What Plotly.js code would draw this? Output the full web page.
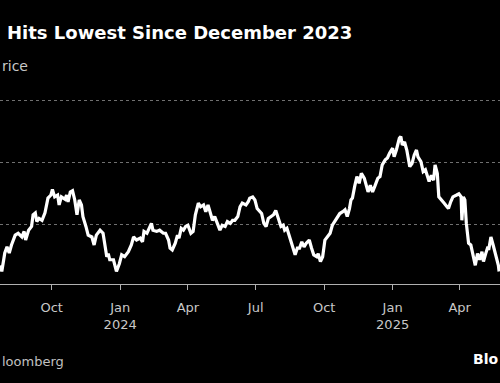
<!DOCTYPE html>
<html>
<head>
<meta charset="utf-8">
<script src="https://cdn.plot.ly/plotly-3.0.1.min.js"></script>
<style>
  html, body { margin: 0; padding: 0; background: #000; }
  #chart { width: 500px; height: 383px; }
</style>
</head>
<body>
<div id="chart"></div>
<script>
// Price series (y units arbitrary, gridlines at 60/70/80)
const dates = [
  "2023-07-24","2023-07-26","2023-07-30","2023-08-02","2023-08-05","2023-08-08","2023-08-13","2023-08-17","2023-08-22","2023-08-25",
  "2023-08-27","2023-08-31","2023-09-04","2023-09-06","2023-09-09","2023-09-11","2023-09-14","2023-09-18","2023-09-22","2023-09-26",
  "2023-09-30","2023-10-02","2023-10-05","2023-10-09","2023-10-11","2023-10-14","2023-10-19","2023-10-21","2023-10-23","2023-10-26",
  "2023-10-29","2023-11-01","2023-11-04","2023-11-07","2023-11-10","2023-11-12","2023-11-16","2023-11-19","2023-11-24","2023-11-27",
  "2023-11-30","2023-12-05","2023-12-09","2023-12-11","2023-12-14","2023-12-16","2023-12-18","2023-12-23","2023-12-27","2023-12-31",
  "2024-01-03","2024-01-07","2024-01-12","2024-01-16","2024-01-19","2024-01-23","2024-01-28","2024-01-31","2024-02-02","2024-02-06",
  "2024-02-09","2024-02-12","2024-02-14","2024-02-19","2024-02-23","2024-02-28","2024-03-02","2024-03-06","2024-03-08","2024-03-11",
  "2024-03-15","2024-03-18","2024-03-20","2024-03-23","2024-03-26","2024-03-29","2024-04-01","2024-04-05","2024-04-08","2024-04-11",
  "2024-04-15","2024-04-18","2024-04-22","2024-04-25","2024-04-28","2024-05-01","2024-05-04","2024-05-07","2024-05-11","2024-05-14",
  "2024-05-17","2024-05-21","2024-05-24","2024-05-28","2024-05-31","2024-06-03","2024-06-07","2024-06-10","2024-06-13","2024-06-18",
  "2024-06-21","2024-06-23","2024-06-27","2024-06-30","2024-07-03","2024-07-06","2024-07-09","2024-07-12","2024-07-15","2024-07-18",
  "2024-07-21","2024-07-25","2024-07-28","2024-07-31","2024-08-04","2024-08-07","2024-08-09","2024-08-12","2024-08-16","2024-08-20",
  "2024-08-23","2024-08-26","2024-08-29","2024-09-01","2024-09-04","2024-09-07","2024-09-11","2024-09-14","2024-09-17","2024-09-21",
  "2024-09-23","2024-09-26","2024-09-29","2024-10-02","2024-10-05","2024-10-09","2024-10-12","2024-10-16","2024-10-19","2024-10-22",
  "2024-10-26","2024-10-29","2024-11-01","2024-11-04","2024-11-06","2024-11-08","2024-11-11","2024-11-14","2024-11-17","2024-11-20",
  "2024-11-24","2024-11-26","2024-11-29","2024-12-02","2024-12-05","2024-12-08","2024-12-12","2024-12-15","2024-12-18","2024-12-22",
  "2024-12-25","2024-12-28","2025-01-01","2025-01-03","2025-01-06","2025-01-10","2025-01-12","2025-01-14","2025-01-17","2025-01-20",
  "2025-01-22","2025-01-24","2025-01-27","2025-01-30","2025-02-02","2025-02-04","2025-02-08","2025-02-11","2025-02-14","2025-02-17",
  "2025-02-19","2025-02-22","2025-02-25","2025-02-27","2025-03-02","2025-03-04","2025-03-08","2025-03-11","2025-03-15","2025-03-17",
  "2025-03-20","2025-03-23","2025-03-28","2025-03-31","2025-04-03","2025-04-04","2025-04-06","2025-04-08","2025-04-10","2025-04-13",
  "2025-04-16","2025-04-19","2025-04-22","2025-04-25","2025-04-28","2025-05-01","2025-05-03","2025-05-06","2025-05-09","2025-05-10",
  "2025-05-13","2025-05-16","2025-05-19","2025-05-23","2025-05-24"
];
const prices = [
  53.3,52.3,55.3,56.3,55.3,56.6,58.2,58.5,57.9,58.8,
  57.4,59.0,59.6,61.5,61.8,60.4,60.9,60.6,61.8,64.2,
  64.7,65.6,64.4,64.7,63.1,64.4,64.0,64.7,63.6,65.2,
  65.4,63.9,61.5,63.9,63.1,61.2,59.6,58.2,57.9,56.6,
  58.2,59.0,58.5,56.9,54.7,55.2,54.2,54.2,52.3,53.6,
  55.0,54.7,55.5,56.6,57.9,57.4,57.7,57.1,58.8,58.5,
  59.3,60.1,59.0,58.8,59.0,58.5,58.5,57.4,56.1,55.8,
  56.9,58.2,57.7,59.3,59.0,59.6,59.8,58.5,58.8,61.5,
  63.4,62.8,63.1,62.0,63.1,62.0,60.6,61.2,60.1,59.0,
  59.8,59.6,60.4,60.1,60.6,60.6,61.2,62.8,63.4,63.1,
  63.6,64.2,64.4,63.9,62.5,62.0,61.7,60.1,59.6,60.9,
  61.2,61.5,62.2,60.9,59.6,59.8,59.0,59.3,57.7,56.3,
  55.0,56.1,56.1,57.1,56.3,56.9,57.4,56.1,55.0,54.7,
  55.2,53.9,54.7,57.4,57.9,58.5,59.8,60.6,61.2,61.7,
  62.0,62.3,61.2,62.5,63.9,64.2,66.1,67.7,66.6,68.2,
  67.4,66.6,65.2,66.3,65.2,66.1,67.4,67.7,69.6,70.4,
  70.7,71.5,72.3,70.9,72.0,73.9,74.2,72.8,73.3,72.0,
  70.7,69.3,69.8,71.2,72.0,70.9,70.1,68.5,68.8,67.4,
  66.9,67.9,67.1,69.6,68.2,64.4,63.9,63.4,62.8,62.5,
  63.6,64.4,64.7,64.9,64.4,60.6,64.4,63.9,60.1,56.9,
  56.6,54.7,53.3,55.2,54.2,55.5,53.9,55.2,56.3,55.8,
  57.9,56.6,55.2,53.3,52.3
];
const tickDates = ["2023-10-01","2024-01-01","2024-04-01","2024-07-01","2024-10-01","2025-01-01","2025-04-01"];
const tickLabels = ["Oct","Jan<br>2024","Apr","Jul","Oct","Jan<br>2025","Apr"];
const gridValues = [60, 70, 80];

const titleText = "Hits Lowest Since December 2023";
const subtitleText = "rice";
const sourceText = "loomberg";
const logoText = "Blo";

const trace = {
  x: dates, y: prices, type: "scatter", mode: "lines",
  line: { color: "#ffffff", width: 3.2 }, hoverinfo: "skip"
};

const layout = {
  width: 500, height: 383,
  paper_bgcolor: "#000000", plot_bgcolor: "#000000",
  margin: { l: 0, r: 0, t: 95, b: 99, pad: 0 },
  showlegend: false,
  font: { family: "DejaVu Sans, sans-serif", color: "#bdbdbd" },
  title: {
    text: "<b>" + titleText + "</b>",
    x: 7/500, xanchor: "left", xref: "paper",
    y: 1 - 33/383, yanchor: "middle", yref: "container",
    font: { size: 18, color: "#ffffff", family: "DejaVu Sans, sans-serif" }
  },
  xaxis: {
    type: "date",
    range: ["2023-07-23 14:00", "2025-05-25 05:00"],
    tickvals: tickDates, ticktext: tickLabels,
    showgrid: false, zeroline: false,
    showline: true, linecolor: "#b0b0b0", linewidth: 1,
    ticks: "outside", ticklen: 5, tickcolor: "#b0b0b0", tickwidth: 1,
    ticklabelstandoff: 6,
    tickfont: { size: 13, color: "#c8c8c8", family: "DejaVu Sans, sans-serif" },
    fixedrange: true
  },
  yaxis: {
    range: [50.27, 80.92],
    tickvals: gridValues, showticklabels: false,
    showgrid: true, gridcolor: "#707070", griddash: "dot", gridwidth: 1,
    zeroline: false, showline: false, ticks: "",
    fixedrange: true
  },
  annotations: [
    { text: subtitleText, xref: "paper", yref: "paper", x: 0, y: 1 + 29/189,
      xanchor: "left", yanchor: "middle", showarrow: false,
      font: { size: 14, color: "#c8c8c8", family: "DejaVu Sans, sans-serif" } },
    { text: sourceText, xref: "paper", yref: "paper", x: 0, y: -77/189,
      xanchor: "left", yanchor: "middle", showarrow: false,
      font: { size: 13, color: "#c0c0c0", family: "DejaVu Sans, sans-serif" } },
    { text: "<b>" + logoText + "</b>", xref: "paper", yref: "paper", x: 1, y: -75/189,
      xanchor: "right", yanchor: "middle", showarrow: false,
      font: { size: 14, color: "#ffffff", family: "DejaVu Sans, sans-serif" } }
  ]
};

Plotly.newPlot("chart", [trace], layout, { displayModeBar: false, staticPlot: true });
</script>
</body>
</html>
